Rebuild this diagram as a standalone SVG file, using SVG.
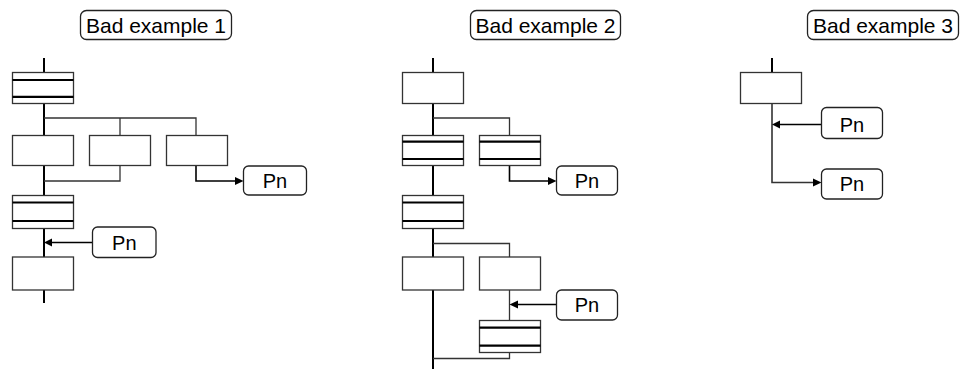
<svg xmlns="http://www.w3.org/2000/svg" width="965" height="379" viewBox="0 0 965 379">
<style>
.t{font-family:"Liberation Sans",Arial,sans-serif;font-size:21px;fill:#000;text-anchor:middle}
.p{font-family:"Liberation Sans",Arial,sans-serif;font-size:20px;fill:#000;text-anchor:middle}
.lbl{fill:#fff;stroke:#222;stroke-width:1.3}
.box{fill:#fff;stroke:#333;stroke-width:1.3}
.dl{stroke:#000;stroke-width:2.2}
.main{stroke:#000;stroke-width:2;fill:none}
.br{stroke:#333;stroke-width:1.3;fill:none}
.ar{stroke:#000;stroke-width:1.6;fill:none}
.ah{fill:#000}
</style>
<rect width="965" height="379" fill="#fff"/>

<g id="titles">
<g id="title1"><rect class="lbl" x="80.5" y="10.5" width="151" height="29" rx="6"/><text class="t" x="156" y="32.5">Bad example 1</text></g>
<g id="title2"><rect class="lbl" x="470.5" y="10.5" width="150" height="29" rx="6"/><text class="t" x="545.5" y="32.5">Bad example 2</text></g>
<g id="title3"><rect class="lbl" x="807.5" y="10.5" width="151" height="29" rx="6"/><text class="t" x="883" y="32.5">Bad example 3</text></g>
</g>

<g id="connectors">
<!-- example 1 -->
<line class="main" x1="44" y1="58" x2="44" y2="303"/>
<polyline class="br" points="44,118 196,118 196,135"/>
<line class="br" x1="120" y1="118" x2="120" y2="135"/>
<polyline class="br" points="120,166 120,181 44,181"/>
<polyline class="ar" points="196,166 196,181 236,181"/>
<polygon class="ah" points="235,177 243.5,181 235,185"/>
<line class="ar" x1="92.5" y1="242.5" x2="51" y2="242.5"/>
<polygon class="ah" points="52,238.5 44,242.5 52,246.5"/>
<!-- example 2 -->
<line class="main" x1="433" y1="58" x2="433" y2="369"/>
<polyline class="br" points="433,118 509.5,118 509.5,135"/>
<polyline class="ar" points="509.5,166 509.5,181 549,181"/>
<polygon class="ah" points="548,177 556.5,181 548,185"/>
<polyline class="br" points="433,243.5 509.5,243.5 509.5,257"/>
<line class="br" x1="509.5" y1="290" x2="509.5" y2="320"/>
<line class="ar" x1="556.5" y1="304.5" x2="517" y2="304.5"/>
<polygon class="ah" points="518,300.5 509.5,304.5 518,308.5"/>
<polyline class="br" points="509.5,353 509.5,358.5 433,358.5"/>
<!-- example 3 -->
<line class="main" x1="772" y1="58" x2="772" y2="72"/>
<polyline class="br" style="stroke-width:1.6" points="772,104 772,182.5 814,182.5"/>
<polygon class="ah" points="813,178.5 821.5,182.5 813,186.5"/>
<line class="ar" x1="821.5" y1="124.5" x2="779" y2="124.5"/>
<polygon class="ah" points="780,120.5 772,124.5 780,128.5"/>
</g>

<g id="ex1">
<g id="e1-s0"><rect class="box" x="12.5" y="72.5" width="61" height="31"/><line class="dl" x1="12.5" y1="80" x2="73.5" y2="80"/><line class="dl" x1="12.5" y1="96.8" x2="73.5" y2="96.8"/></g>
<g id="e1-s1"><rect class="box" x="12.5" y="135.5" width="61" height="30"/></g>
<g id="e1-s2"><rect class="box" x="89.5" y="135.5" width="61" height="30"/></g>
<g id="e1-s3"><rect class="box" x="166.5" y="135.5" width="61" height="30"/></g>
<g id="e1-pn1"><rect class="lbl" x="243.5" y="166" width="63" height="29" rx="5"/><text class="p" x="275" y="187.5">Pn</text></g>
<g id="e1-s4"><rect class="box" x="12.5" y="195.5" width="61" height="33"/><line class="dl" x1="12.5" y1="202.5" x2="73.5" y2="202.5"/><line class="dl" x1="12.5" y1="221" x2="73.5" y2="221"/></g>
<g id="e1-pn2"><rect class="lbl" x="92.5" y="227" width="63.5" height="30.5" rx="5"/><text class="p" x="124.3" y="249.5">Pn</text></g>
<g id="e1-s5"><rect class="box" x="12.5" y="257" width="61" height="33"/></g>
</g>

<g id="ex2">
<g id="e2-s0"><rect class="box" x="402.5" y="72.5" width="61" height="31"/></g>
<g id="e2-s1"><rect class="box" x="402.5" y="135.5" width="61" height="30"/><line class="dl" x1="402.5" y1="141.7" x2="463.5" y2="141.7"/><line class="dl" x1="402.5" y1="159" x2="463.5" y2="159"/></g>
<g id="e2-s2"><rect class="box" x="479.5" y="135.5" width="61" height="30"/><line class="dl" x1="479.5" y1="141.7" x2="540.5" y2="141.7"/><line class="dl" x1="479.5" y1="159" x2="540.5" y2="159"/></g>
<g id="e2-pn1"><rect class="lbl" x="556.5" y="166" width="61" height="29" rx="5"/><text class="p" x="587" y="187.5">Pn</text></g>
<g id="e2-s3"><rect class="box" x="402.5" y="195.5" width="61" height="33"/><line class="dl" x1="402.5" y1="202.5" x2="463.5" y2="202.5"/><line class="dl" x1="402.5" y1="221" x2="463.5" y2="221"/></g>
<g id="e2-s4"><rect class="box" x="402.5" y="257" width="61" height="33"/></g>
<g id="e2-s5"><rect class="box" x="479.5" y="257" width="61" height="33"/></g>
<g id="e2-pn2"><rect class="lbl" x="556.5" y="290" width="61" height="30" rx="5"/><text class="p" x="587" y="311.5">Pn</text></g>
<g id="e2-s6"><rect class="box" x="479.5" y="320.5" width="61" height="32"/><line class="dl" x1="479.5" y1="327.7" x2="540.5" y2="327.7"/><line class="dl" x1="479.5" y1="345.7" x2="540.5" y2="345.7"/></g>
</g>

<g id="ex3">
<g id="e3-s0"><rect class="box" x="740.5" y="72.5" width="61" height="31"/></g>
<g id="e3-pn1"><rect class="lbl" x="821.5" y="107.5" width="61" height="31" rx="5"/><text class="p" x="852" y="131.5">Pn</text></g>
<g id="e3-pn2"><rect class="lbl" x="821.5" y="169" width="61" height="30" rx="5"/><text class="p" x="852" y="191">Pn</text></g>
</g>
</svg>
